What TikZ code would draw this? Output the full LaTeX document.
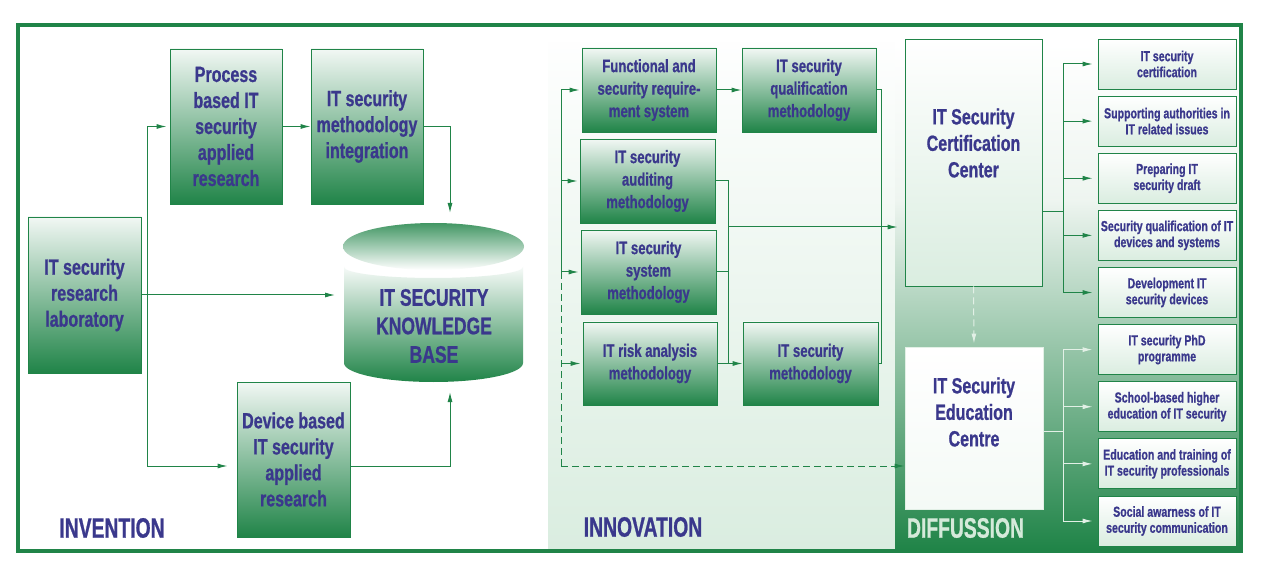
\documentclass[tikz,border=0pt]{standalone}
\usepackage{fontspec}
\setmainfont[FakeStretch=0.73, BoldFeatures={FakeBold=0.8}]{Liberation Sans}
\newfontfamily\panelfont[FakeStretch=0.69, BoldFeatures={FakeBold=0.8}]{Liberation Sans}
\usetikzlibrary{arrows.meta}

\definecolor{itgreen}{RGB}{32,132,72}
\definecolor{itblue}{RGB}{58,56,140}
\definecolor{mint}{RGB}{218,237,224}
\definecolor{paleline}{RGB}{226,240,230}
\definecolor{diffmint}{RGB}{213,234,218}
\definecolor{diffpale}{RGB}{238,245,240}
\definecolor{diffmid}{RGB}{140,188,153}

\tikzset{
  greenbox/.style={draw=itgreen, line width=0.9pt, top color=white!94!itgreen,
    bottom color=itgreen, text=itblue, align=center, inner sep=0pt,
    minimum width=112pt, minimum height=155pt,
    font=\bfseries\fontsize{22}{26}\selectfont},
  innobox/.style={greenbox, minimum width=134pt, minimum height=84pt,
    font=\bfseries\fontsize{18}{22.5}\selectfont},
  centrebox/.style={draw=itgreen, line width=0.9pt, top color=white,
    bottom color=mint, minimum width=137pt, inner sep=0pt},
  bigtext/.style={text=itblue, align=center, inner sep=0pt,
    font=\bfseries\fontsize{22}{26.5}\selectfont},
  kbtext/.style={text=itblue, align=center, inner sep=0pt,
    font=\bfseries\fontsize{24}{28.5}\selectfont},
  smallbox/.style={draw=itgreen, line width=0.9pt, top color=white,
    bottom color=mint, text=itblue, align=center, inner sep=0pt,
    minimum width=138pt, minimum height=50pt,
    font=\bfseries\fontsize{14.5}{16}\selectfont},
  link/.style={draw=itgreen, line width=1pt},
  palelink/.style={draw=paleline, line width=1pt},
  panellabel/.style={text=itblue, inner sep=0pt,
    font=\panelfont\bfseries\fontsize{28}{28}\selectfont}
}

\begin{document}
\begin{tikzpicture}[x=1pt,y=-1pt,>={Latex[length=10pt,width=5pt]}]
  \useasboundingbox (0,0) rectangle (1261,569);
  % panels
  \fill[white] (0,0) rectangle (1261,569);
  \shade[top color=white!97!mint, bottom color=mint] (548,43) rectangle (895,549);
  \shade[top color=white, bottom color=diffpale] (895,43) rectangle (1239,200.5);
  \shade[top color=diffpale, middle color=diffmid, bottom color=itgreen] (895,200) rectangle (1239,549);
  \draw[itgreen, line width=4pt] (18,25) rectangle (1241,551);

  % knowledge base
  \shade[top color=itgreen!85, bottom color=white] (433.5,246.5) ellipse [x radius=90.5, y radius=23.5];
  \shade[top color=white!96!itgreen, bottom color=itgreen] (344,267)
    arc[start angle=180, end angle=0, x radius=89.5, y radius=11] -- (523,363)
    arc[start angle=0, end angle=180, x radius=89.5, y radius=19] -- cycle;
  \node[kbtext] (kb) at (434,326) {IT SECURITY\\KNOWLEDGE\\BASE};
  \coordinate (kbtop) at (450,213);
  \coordinate (kbbot) at (450,392);
  \coordinate (kbleft) at (335,295);

  % invention
  \node[greenbox, minimum width=113pt, minimum height=156pt] (lab) at (84.5,295) {IT security\\research\\laboratory};
  \node[greenbox] (proc) at (226,126.5) {Process\\based IT\\security\\applied\\research};
  \node[greenbox] (integ) at (367,126.5) {IT security\\methodology\\integration};
  \node[greenbox, minimum width=113pt] (dev) at (293.5,459.5) {Device based\\IT security\\applied\\research};
  \coordinate (devw) at ([yshift=-6.5pt]dev.west);
  \coordinate (deve) at ([yshift=-6.5pt]dev.east);
  \coordinate (lbus) at (147,295);

  \draw[link,->] (lab.east) -- (kbleft);
  \draw[link] (lbus |- proc.west) -- (lbus |- devw);
  \draw[link,->,shorten >=3pt] (lbus |- proc.west) -- (proc.west);
  \draw[link,->,shorten >=9pt] (lbus |- devw) -- (devw);
  \draw[link,->] (proc.east) -- (integ.west);
  \draw[link,->] (integ.east) -| (kbtop);
  \draw[link,->] (deve) -| (kbbot);

  % innovation
  \node[innobox] (func) at (649,90) {Functional and\\security require-\\ment system};
  \node[innobox] (qual) at (809,90) {IT security\\qualification\\methodology};
  \node[innobox, minimum width=135pt] (audit) at (647.5,181) {IT security\\auditing\\methodology};
  \node[innobox, minimum width=135pt] (sysm) at (648.5,272) {IT security\\system\\methodology};
  \node[innobox, minimum height=83pt] (risk) at (650,363.5) {IT risk analysis\\methodology};
  \node[innobox, minimum width=135pt, minimum height=83pt] (secm) at (810.5,363.5) {IT security\\methodology};

  % diffusion
  \node[centrebox, minimum height=247pt] (cert) at (973.5,162.5) {};
  \node[bigtext] (certlbl) at (973.5,143) {IT Security\\Certification\\Center};
  \node[centrebox, draw=paleline, bottom color=white!70!mint, minimum width=138pt, minimum height=162pt] (edu) at (974,428) {};
  \node[bigtext] (edulbl) at (974,412) {IT Security\\Education\\Centre};

  \foreach \t [count=\k] in {{IT security\\certification},
      {Supporting authorities in\\IT related issues},
      {Preparing IT\\security draft},
      {Security qualification of IT\\devices and systems},
      {Development IT\\security devices},
      {IT security PhD\\programme},
      {School-based higher\\education of IT security},
      {Education and training of\\IT security professionals},
      {Social awarness of IT\\security communication}}
    \node[smallbox] (r\k) at (1167,{64+57.125*(\k-1)}) {\t};

  % innovation links
  \coordinate (ibus) at (561,90);
  \coordinate (ibusmid) at (561,272);
  \coordinate (ibusbot) at (561,466);
  \draw[link] (ibus) -- (ibusmid);
  \draw[link, dash pattern=on 7pt off 4pt] (ibusmid) -- (ibusbot);
  \foreach \n in {func,audit,sysm,risk}
    \draw[link,->,shorten >=2pt] (ibus |- \n.west) -- (\n.west);
  \draw[link,->, dash pattern=on 7pt off 4pt] (ibusbot) -- (ibusbot -| edu.west);
  \draw[link,->] (func.east) -- (qual.west);
  \coordinate (jn) at (728,227);
  \coordinate (rbus) at (881,227);
  \draw[link] (audit.east) -| (jn |- risk.east);
  \draw[link] (sysm.east) -- (jn |- sysm.east);
  \draw[link,->] (risk.east) -- (secm.west);
  \draw[link] (qual.east) -| (rbus) |- (secm.east);
  \draw[link,->,shorten >=7pt] (jn) -- (jn -| cert.west);

  % diffusion links
  \coordinate (cfork) at (1063,212);
  \coordinate (efork) at (1063,431);
  \draw[link] (cert.east |- cfork) -- (cfork);
  \draw[link] (cfork |- r1) -- (cfork |- r5);
  \foreach \k in {1,...,5}
    \draw[link,->,shorten >=5pt] (cfork |- r\k) -- (r\k.west);
  \draw[palelink] (edu.east |- efork) -- (efork);
  \draw[palelink] (efork |- r6) -- (efork |- r9);
  \foreach \k in {6,...,9}
    \draw[palelink,->,shorten >=5pt] (efork |- r\k) -- (r\k.west);
  \draw[palelink,->, dash pattern=on 7pt off 4pt, shorten >=3pt] (cert.south) -- (edu.north);

  % panel names
  \node[panellabel] (invlbl) at (112,528) {INVENTION};
  \node[panellabel] (innlbl) at (643,527) {INNOVATION};
  \node[panellabel, text=diffmint] (difflbl) at (965.5,528) {DIFFUSSION};
\end{tikzpicture}
\end{document}
